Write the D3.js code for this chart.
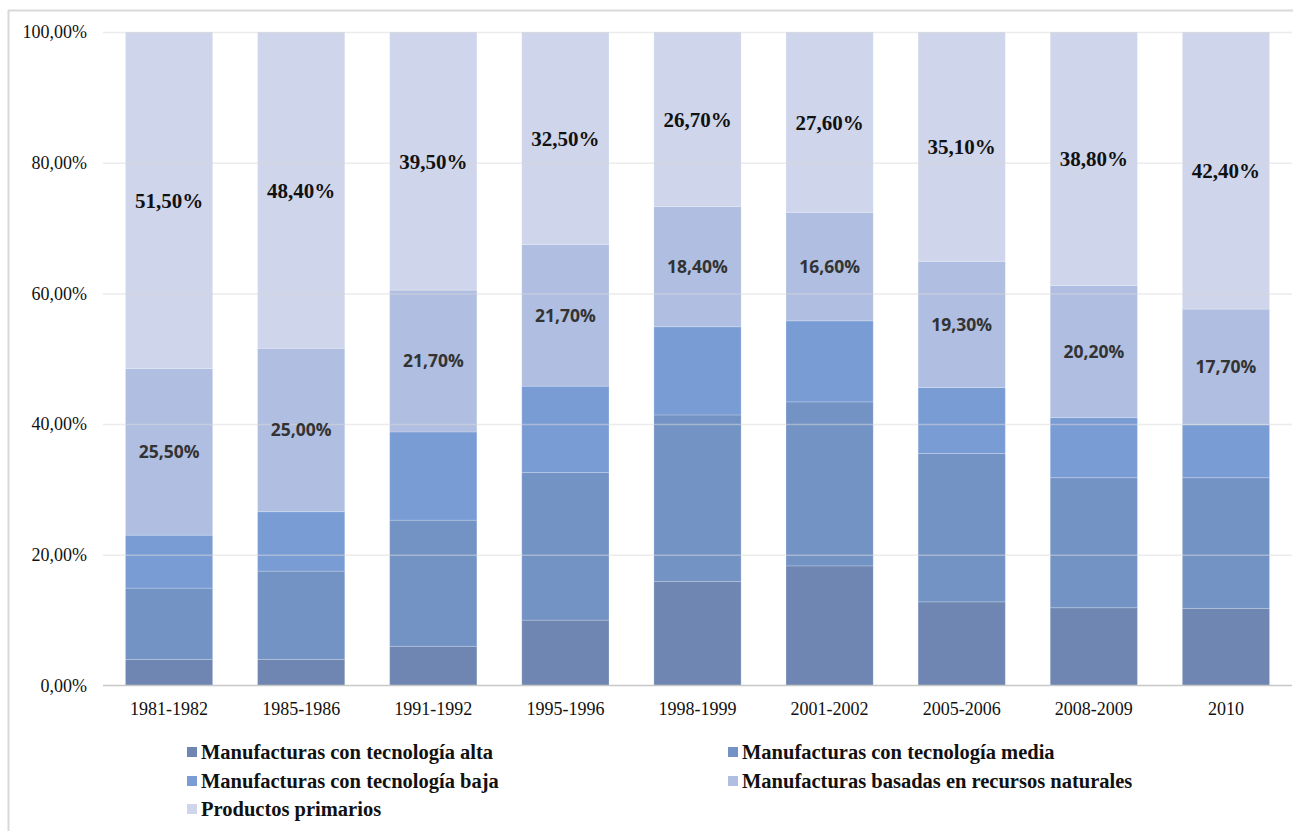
<!DOCTYPE html>
<html>
<head>
<meta charset="utf-8">
<script src="https://cdn.jsdelivr.net/npm/d3@7"></script>
<style>
  html, body { margin: 0; padding: 0; background: #fff; }
  svg { display: block; }
</style>
</head>
<body>
<svg id="chart" width="1297" height="831"></svg>
<script>
const categories = ["1981-1982","1985-1986","1991-1992","1995-1996","1998-1999","2001-2002","2005-2006","2008-2009","2010"];
const seriesNames = [
  "Manufacturas con tecnología alta",
  "Manufacturas con tecnología media",
  "Manufacturas con tecnología baja",
  "Manufacturas basadas en recursos naturales",
  "Productos primarios"
];
const altaValues      = [4.0, 4.0, 6.0, 10.0, 15.9, 18.3, 12.8, 11.9, 11.8];
const mediaValues     = [10.9, 13.5, 19.3, 22.6, 25.5, 25.1, 22.7, 19.9, 20.0];
const bajaValues      = [8.1, 9.1, 13.5, 13.2, 13.5, 12.4, 10.1, 9.2, 8.1];
const recursosValues  = [25.5, 25.0, 21.7, 21.7, 18.4, 16.6, 19.3, 20.2, 17.7];
const primariosValues = [51.5, 48.4, 39.5, 32.5, 26.7, 27.6, 35.1, 38.8, 42.4];
const yTicks = [0, 20, 40, 60, 80, 100];
const colors = ["#6e86b1", "#7393c4", "#7a9cd5", "#afbee1", "#cfd5eb"];

const seriesValues = [altaValues, mediaValues, bajaValues, recursosValues, primariosValues];
const keys = ["alta","media","baja","recursos","primarios"];
const table = categories.map((c, i) => {
  const row = { cat: c };
  keys.forEach((k, j) => row[k] = seriesValues[j][i]);
  return row;
});

const locale = d3.formatLocale({ decimal: ",", thousands: ".", grouping: [3], currency: ["", "€"] });
const fmtTick = v => locale.format(".2f")(v) + "%";
const fmtLabel = v => locale.format(".2f")(v) + "%";

const svg = d3.select("#chart");
const plotLeft = 103, plotRight = 1292, plotTop = 32, plotBottom = 685.5;
const serif = "'Liberation Serif', 'Times New Roman', 'DejaVu Serif', serif";

// frame
svg.append("line").attr("x1", 8.5).attr("x2", 8.5).attr("y1", 10).attr("y2", 831)
  .attr("stroke", "#d9d9d9").attr("stroke-width", 2);
svg.append("line").attr("x1", 8).attr("x2", 1293).attr("y1", 10.5).attr("y2", 10.5)
  .attr("stroke", "#d9d9d9").attr("stroke-width", 2);

const x = d3.scaleBand().domain(categories).range([plotLeft, plotRight]).paddingInner(0.34).paddingOuter(0.17);
const y = d3.scaleLinear().domain([0, 100]).range([plotBottom, plotTop]);

const stack = d3.stack().keys(keys)(table);

const g = svg.append("g");
stack.forEach((layer, li) => {
  g.selectAll(null).data(layer).enter().append("rect")
    .attr("x", d => x(d.data.cat))
    .attr("width", x.bandwidth())
    .attr("y", d => y(d[1]))
    .attr("height", d => y(d[0]) - y(d[1]))
    .attr("fill", colors[li])
    .attr("stroke", "rgba(255,255,255,0.2)")
    .attr("stroke-width", 1);
});

// gridlines (drawn over bars faintly)
const yAxis = d3.axisLeft(y).tickValues(yTicks).tickSize(-(plotRight - plotLeft)).tickFormat(fmtTick).tickPadding(16);
const ya = svg.append("g").attr("transform", `translate(${plotLeft},0)`).call(yAxis);
ya.select(".domain").remove();
ya.selectAll(".tick line").attr("stroke", "#d9d9d9").attr("stroke-opacity", d => d === 0 ? 0 : 0.5).attr("stroke-width", 1.5);
ya.selectAll(".tick text").attr("font-family", serif)
  .attr("font-size", 18).attr("fill", "#111").attr("x", -16);

// baseline
svg.append("line").attr("x1", plotLeft).attr("x2", plotRight).attr("y1", y(0)).attr("y2", y(0))
  .attr("stroke", "#c8c8c8").attr("stroke-width", 1.5);

// x axis labels
const xAxis = d3.axisBottom(x).tickSize(0).tickPadding(17);
const xa = svg.append("g").attr("transform", `translate(0,${plotBottom})`).call(xAxis);
xa.select(".domain").remove();
xa.selectAll(".tick text").attr("font-family", serif)
  .attr("font-size", 18).attr("fill", "#111");

// labels: recursos (sans bold gray) and primarios (serif bold black)
const recLayer = stack[3], primLayer = stack[4];
svg.selectAll(".recLabel").data(recLayer).enter().append("text")
  .attr("x", d => x(d.data.cat) + x.bandwidth() / 2)
  .attr("y", d => y((d[0] + d[1]) / 2))
  .attr("dy", "0.36em")
  .attr("text-anchor", "middle")
  .attr("font-family", "'Open Sans', Lato, sans-serif")
  .attr("font-weight", "bold")
  .attr("font-size", 17.5)
  .attr("fill", "#333")
  .text(d => fmtLabel(d.data.recursos));
svg.selectAll(".primLabel").data(primLayer).enter().append("text")
  .attr("x", d => x(d.data.cat) + x.bandwidth() / 2)
  .attr("y", d => y((d[0] + d[1]) / 2))
  .attr("dy", "0.36em")
  .attr("text-anchor", "middle")
  .attr("font-family", serif)
  .attr("font-weight", "bold")
  .attr("font-size", 21)
  .attr("fill", "#111")
  .text(d => fmtLabel(d.data.primarios));

// legend
const legendPos = [
  [187, 752], [728, 752],
  [187, 781], [728, 781],
  [187, 809]
];
const lg = svg.append("g");
seriesNames.forEach((name, i) => {
  const [lx, ly] = legendPos[i];
  lg.append("rect").attr("x", lx).attr("y", ly - 5).attr("width", 10).attr("height", 10).attr("fill", colors[i]);
  lg.append("text").attr("x", lx + 14).attr("y", ly).attr("dy", "0.35em")
    .attr("font-family", serif)
    .attr("font-weight", "bold").attr("font-size", 20.5).attr("fill", "#111")
    .text(name);
});
</script>
</body>
</html>
